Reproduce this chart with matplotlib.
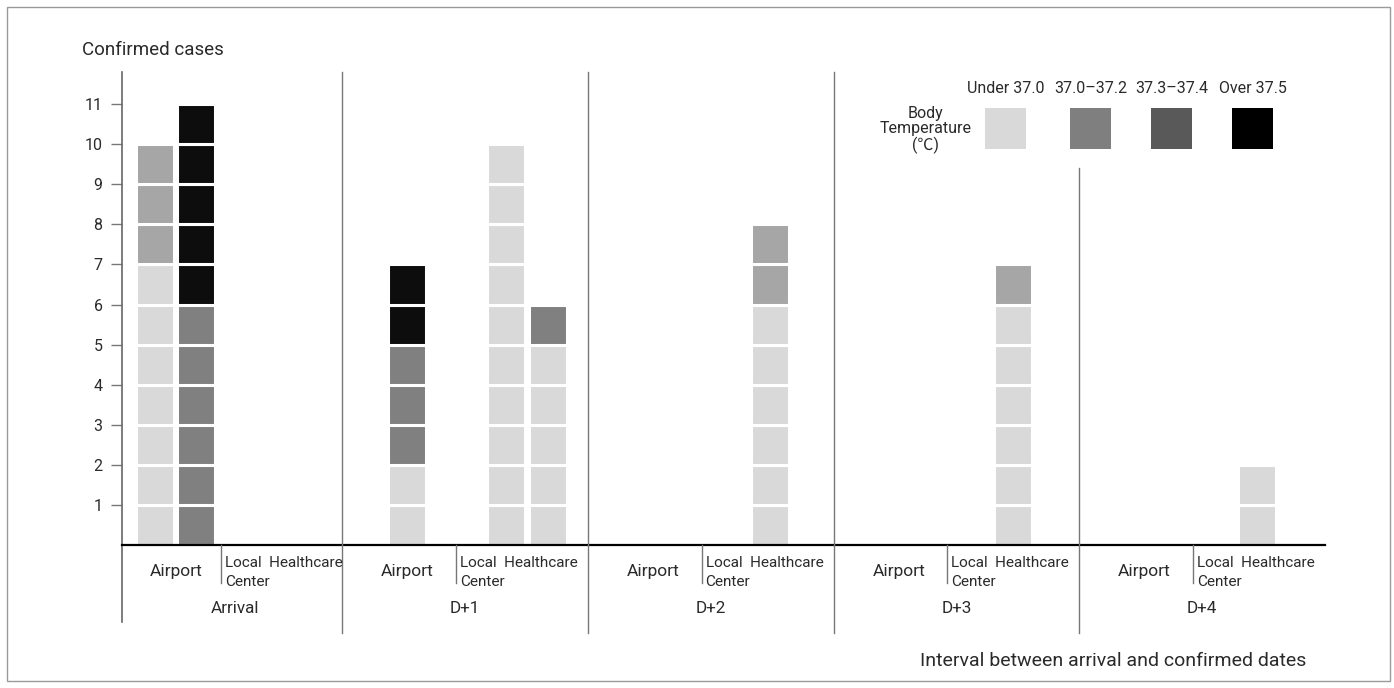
import matplotlib.pyplot as plt
from matplotlib.patches import Rectangle

plt.rcParams['font.family'] = ['Roboto', 'Noto Sans CJK KR', 'DejaVu Sans']

# data
groups = ['Arrival', 'D+1', 'D+2', 'D+3', 'D+4']
temp_labels = ['Under 37.0', '37.0\u201337.2', '37.3\u201337.4', 'Over 37.5']
# counts per temperature class, bottom to top, for each column of squares
bar_group = [0, 0, 1, 1, 1, 2, 3, 4]
bar_counts = [
    [7, 3, 0, 0],
    [0, 0, 6, 5],
    [2, 0, 3, 2],
    [10, 0, 0, 0],
    [5, 0, 1, 0],
    [6, 2, 0, 0],
    [6, 1, 0, 0],
    [2, 0, 0, 0],
]
yticks = list(range(1, 12))

# styles / layout
bar_colors = ['#d9d9d9', '#a6a6a6', '#808080', '#0d0d0d']
legend_colors = ['#d9d9d9', '#7f7f7f', '#595959', '#000000']
bar_offset = [0.238, 0.407, 0.264, 0.667, 0.838, 0.741, 0.730, 0.723]
bar_w = 0.155
txt = '#2a2a2a'

fig = plt.figure(figsize=(13.94, 6.88), dpi=100)
fig.patches.append(Rectangle((7 / 1394, 7 / 688), 1383 / 1394, 674 / 688,
                             transform=fig.transFigure, fill=False,
                             edgecolor='#9a9a9a', lw=1))
ax = fig.add_axes([122 / 1394, 0.0794, 1203 / 1394, 0.816])
x0, x1 = 0.104, 5.0
ax.set_xlim(x0, x1)
ax.set_ylim(-2.2, 11.8)
for s in ax.spines.values():
    s.set_visible(False)
ax.set_xticks([])
ax.set_yticks(yticks)
ax.set_yticklabels([str(t) for t in yticks], fontsize=11.5, color=txt)
ax.tick_params(axis='y', length=8, width=1, color='#777777', pad=6)

# stacked unit squares
for g, off, counts in zip(bar_group, bar_offset, bar_counts):
    bottom = 0
    for cls, n in enumerate(counts):
        for _ in range(n):
            ax.bar(g + off, 1, bottom=bottom, width=bar_w, color=bar_colors[cls],
                   edgecolor='white', linewidth=2.2)
            bottom += 1

# axes lines
ax.plot([x0, x0], [-1.92, 11.8], color='#666666', lw=1.2, clip_on=False)
ax.plot([x0, x1], [0, 0], color='black', lw=1.6, clip_on=False)
for k in range(1, 5):
    top = 9.4 if k == 4 else 11.8
    ax.plot([k, k], [-2.2, top], color='#777777', lw=1, clip_on=False)

# category labels
for k, name in enumerate(groups):
    sub = 0.507 if k == 0 else k + 0.463
    air = 0.324 if k == 0 else k + 0.265
    mid = 0.564 if k == 0 else k + 0.5
    ax.plot([sub, sub], [-0.95, 0], color='#777777', lw=1, clip_on=False)
    ax.text(air, -0.65, 'Airport', ha='center', va='center', fontsize=12.5, color=txt)
    ax.text(sub + 0.016, -0.69, 'Local  Healthcare\nCenter', ha='left', va='center',
            fontsize=11, color=txt, linespacing=1.45)
    ax.text(mid, -1.57, name, ha='center', va='center', fontsize=12.3, color=txt)

ax.text(-0.06, 12.35, 'Confirmed cases', ha='left', va='center', fontsize=13.5,
        color=txt, clip_on=False)
ax.text(4.925, -2.9, 'Interval between arrival and confirmed dates', ha='right',
        va='center', fontsize=14, color=txt, clip_on=False)

# legend
leg_x = [3.699, 4.046, 4.375, 4.705]
for lx, c, lab in zip(leg_x, legend_colors, temp_labels):
    ax.add_patch(Rectangle((lx - 0.0835, 9.875), 0.167, 1.02, facecolor=c,
                           edgecolor='none', clip_on=False))
    ax.text(lx, 11.4, lab, ha='center', va='center', fontsize=11.5, color=txt)
ax.text(3.376, 10.35, 'Body\nTemperature\n(\u2103)', ha='center', va='center',
        fontsize=11.5, color=txt, linespacing=1.05)

fig.savefig('out.png', dpi=100)
